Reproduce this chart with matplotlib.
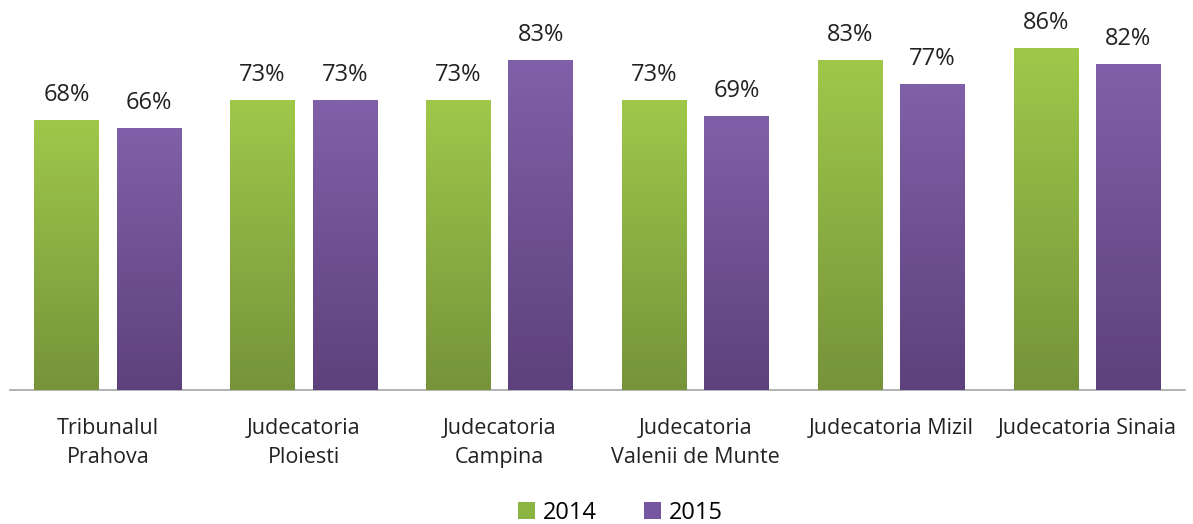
import numpy as np
import matplotlib
matplotlib.use("Agg")
import matplotlib.pyplot as plt
from matplotlib.colors import LinearSegmentedColormap
from matplotlib.patches import Patch

categories = ["Tribunalul\nPrahova", "Judecatoria\nPloiesti", "Judecatoria\nCampina",
              "Judecatoria\nValenii de Munte", "Judecatoria Mizil", "Judecatoria Sinaia"]
series_2014 = [68, 73, 73, 73, 83, 86]
series_2015 = [66, 73, 83, 69, 77, 82]
series_names = ["2014", "2015"]

plt.rcParams['font.family'] = ['Open Sans', 'DejaVu Sans']

fig = plt.figure(figsize=(11.93, 5.24), dpi=100)
ax = fig.add_axes([10/1193, 1 - 390/524, 1175/1193, 390/524])

x = np.arange(len(categories))
w = 0.33
off = 0.21
green_top, green_bot = "#9fc84a", "#76933a"
purple_top, purple_bot = "#8060a8", "#5d417c"

def grad_bars(xs, vals, ctop, cbot):
    bars = ax.bar(xs, vals, w, color=ctop, edgecolor="none", zorder=2)
    cmap = LinearSegmentedColormap.from_list("g", [cbot, ctop])
    grad = np.linspace(0, 1, 256).reshape(-1, 1)
    for b in bars:
        x0, y0 = b.get_x(), b.get_y()
        im = ax.imshow(grad, extent=[x0, x0 + b.get_width(), y0, y0 + b.get_height()],
                       origin="lower", aspect="auto", cmap=cmap, zorder=3)
        im.set_clip_path(b)
    return bars

b1 = grad_bars(x - off, series_2014, green_top, green_bot)
b2 = grad_bars(x + off, series_2015, purple_top, purple_bot)

for bars, vals in ((b1, series_2014), (b2, series_2015)):
    for b, v in zip(bars, vals):
        ax.text(b.get_x() + b.get_width() / 2, v + 3.3, f"{v}%", ha="center", va="bottom",
                fontsize=17, color="#222222")

ax.set_xlim(-0.5, len(categories) - 0.5)
ax.set_ylim(0, 98.2)
ax.set_xticks(x)
ax.set_xticklabels(categories, fontsize=15.5, color="#222222", linespacing=1.5)
ax.tick_params(axis="x", length=0, pad=20)
ax.set_yticks([])
for s in ["top", "right", "left"]:
    ax.spines[s].set_visible(False)
ax.spines["bottom"].set_color("#a6a6a6")
ax.spines["bottom"].set_linewidth(1.2)

handles = [Patch(facecolor="#8cb443", label=series_names[0]),
           Patch(facecolor="#7556a0", label=series_names[1])]
fig.legend(handles=handles, loc="center", bbox_to_anchor=(620/1193, 1 - 513/524), ncol=2,
           frameon=False, fontsize=17, handlelength=0.75, handleheight=0.75,
           handletextpad=0.3, columnspacing=2.0)

fig.savefig("out.png", dpi=100)
